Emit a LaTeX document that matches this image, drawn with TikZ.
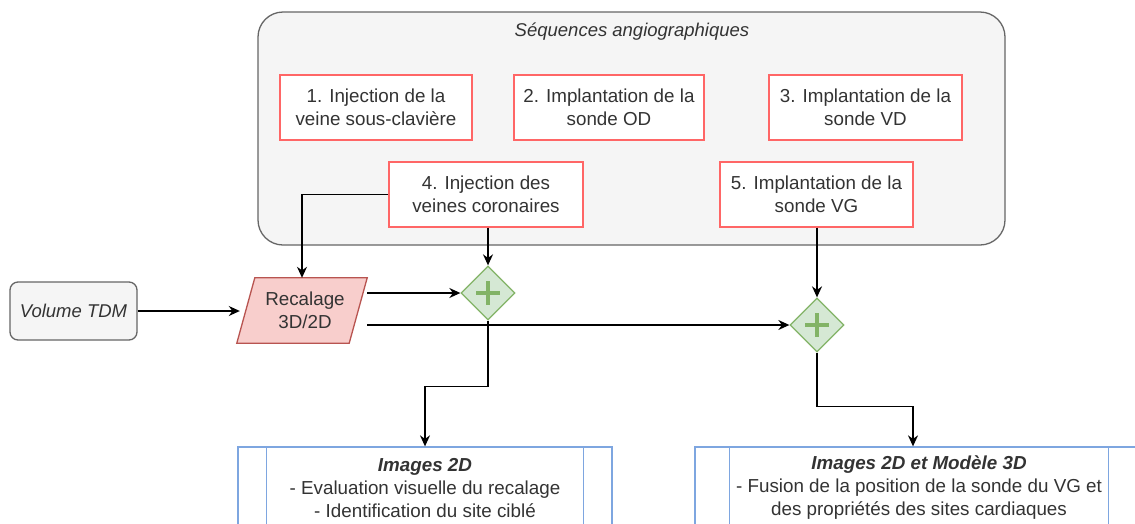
\documentclass[tikz,border=0pt]{standalone}
\usepackage{fontspec}
\setmainfont{Liberation Sans}
\usetikzlibrary{shapes.geometric,arrows.meta,calc}
\definecolor{contfill}{HTML}{F5F5F5}
\definecolor{contdraw}{HTML}{666666}
\definecolor{boxred}{HTML}{FF6666}
\definecolor{parfill}{HTML}{F8CECC}
\definecolor{pardraw}{HTML}{B85450}
\definecolor{grfill}{HTML}{D5E8D4}
\definecolor{grdraw}{HTML}{82B366}
\definecolor{bluedraw}{HTML}{7EA6E0}
\definecolor{txt}{HTML}{333333}
\begin{document}
\begin{tikzpicture}[x=1pt,y=-1pt,
  txtfont/.style={font=\fontsize{18.8}{23}\selectfont, text=txt},
  container/.style={draw=contdraw, fill=contfill, line width=1.3pt, rounded corners=25pt, inner sep=0},
  redbox/.style={txtfont, draw=boxred, fill=white, line width=1.3pt, minimum height=65pt, align=center, inner sep=0},
  grayround/.style={txtfont, draw=contdraw, fill=contfill, line width=1.3pt, rounded corners=8pt, inner sep=0},
  hidden/.style={inner sep=0},
  gw/.style={diamond, draw=grdraw, fill=grfill, line width=1.3pt, minimum width=54pt, minimum height=54pt, inner sep=0},
  plus/.style={draw=grdraw, line width=4pt},
  procbox/.style={txtfont, draw=bluedraw, fill=white, line width=1.3pt, minimum height=82pt, align=center, inner sep=0},
  conn/.style={draw=black, line width=1.4pt, -{Stealth[length=11pt,width=10pt]}}
]
\useasboundingbox (0,0) rectangle (1135,523);
\clip (0,0) rectangle (1135,523);
\fill[white] (0,0) rectangle (1135,523);

% container
\node[container, minimum width=747pt, minimum height=233pt] (seq) at (631.5,128.5) {};
\node[txtfont, font=\fontsize{18.5}{23}\selectfont\itshape] (seqtitle) at (632,32) {Séquences angiographiques};

% red boxes
\node[redbox, minimum width=192pt] (b1) at (376,107.5) {1. Injection de la\\veine sous-clavière};
\node[redbox, minimum width=190pt] (b2) at (609,107.5) {2. Implantation de la\\sonde OD};
\node[redbox, minimum width=193pt] (b3) at (865.5,107.5) {3. Implantation de la\\sonde VD};
\node[redbox, minimum width=194pt] (b4) at (486,194.5) {4. Injection des\\veines coronaires};
\node[redbox, minimum width=193pt] (b5) at (816.5,194.5) {5. Implantation de la\\sonde VG};

% volume TDM
\node[grayround, minimum width=127pt, minimum height=58pt, font=\fontsize{18.5}{23}\selectfont\itshape] (vol) at (73.5,311) {Volume TDM};

% recalage parallelogram
\node[hidden, minimum width=130pt, minimum height=65pt] (recal) at (302,310.5) {};
\draw[draw=pardraw, fill=parfill, line width=1.3pt]
  ($(recal.north west)+(18,0)$) -- (recal.north east) -- ($(recal.south east)+(-18,0)$) -- (recal.south west) -- cycle;
\node[txtfont, align=center] (recaltext) at (305,310.5) {Recalage\\3D/2D};
\coordinate (rin) at ($(recal.west)+(3,0)$);

% gateways
\node[gw] (d1) at (488,293) {};
\draw[plus] ($(d1)+(-12,0)$) -- ($(d1)+(12,0)$);
\draw[plus] ($(d1)+(0,-12)$) -- ($(d1)+(0,12)$);
\node[gw] (d2) at (817,325) {};
\draw[plus] ($(d2)+(-12,0)$) -- ($(d2)+(12,0)$);
\draw[plus] ($(d2)+(0,-12)$) -- ($(d2)+(0,12)$);

% output boxes
\node[procbox, minimum width=374pt] (img1) at (425,488) {\textbf{\textit{Images 2D}}\\- Evaluation visuelle du recalage\\- Identification du site ciblé};
\draw[draw=bluedraw, line width=1.3pt] ($(img1.north west)+(29,0)$) -- ($(img1.south west)+(29,0)$);
\draw[draw=bluedraw, line width=1.3pt] ($(img1.north east)+(-29,0)$) -- ($(img1.south east)+(-29,0)$);
\node[procbox, minimum width=448pt] (img2) at (919,488) {\textbf{\textit{Images 2D et Modèle 3D}}\\- Fusion de la position de la sonde du VG et\\des propriétés des sites cardiaques};
\draw[draw=bluedraw, line width=1.3pt] ($(img2.north west)+(35,0)$) -- ($(img2.south west)+(35,0)$);
\draw[draw=bluedraw, line width=1.3pt] ($(img2.north east)+(-35,0)$) -- ($(img2.south east)+(-35,0)$);
\coordinate (img2in) at ($(img2.north)+(-6,0)$);

% connectors
\draw[conn] (vol.east) -- (rin |- vol.east);
\draw[conn] (b4.west) -| (recal.north);
\draw[conn] (d1.north |- b4.south) -- (d1.north);
\draw[conn] (recal.east |- d1.west) -- (d1.west);
\draw[conn] (recal.east |- d2.west) -- (d2.west);
\draw[conn] (d2.north |- b5.south) -- (d2.north);
\draw[conn] (d1.south) -- ++(0,66) -| (img1.north);
\draw[conn] (d2.south) -- ++(0,54) -| (img2in);
\end{tikzpicture}
\end{document}
